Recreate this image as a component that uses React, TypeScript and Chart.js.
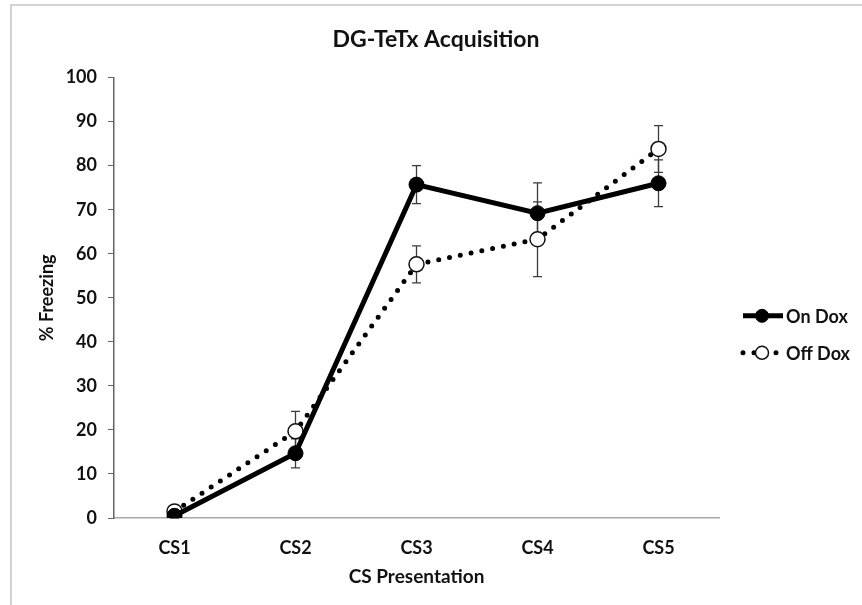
import React, { useEffect, useRef } from "react";
import { Chart, registerables } from "chart.js";

Chart.register(...registerables);

const categories = ["CS1", "CS2", "CS3", "CS4", "CS5"];
const onDox = [0.5, 14.7, 75.7, 69.2, 76.0];
const onDoxErr = [0.5, 3.3, 4.3, 6.9, 5.3];
const offDox = [1.5, 19.7, 57.6, 63.3, 83.8];
const offDoxErr = [0.5, 4.5, 4.2, 8.5, 5.3];
const seriesLabels = ["On Dox", "Off Dox"];
const chartTitle = "DG-TeTx Acquisition";
const xTitle = "CS Presentation";
const yTitle = "% Freezing";

const FONT = "Lato, 'Open Sans', sans-serif";

const framePlugin = {
  id: "frame",
  beforeDraw(chart: any) {
    const ctx = chart.ctx;
    ctx.save();
    ctx.fillStyle = "#ffffff";
    ctx.fillRect(0, 0, chart.width, chart.height);
    ctx.fillStyle = "#d2d2d2";
    ctx.fillRect(10, 4, 2, chart.height - 4);
    ctx.fillRect(10, 4, chart.width - 10, 2);
    ctx.restore();
  },
};

const errorBarPlugin = {
  id: "errorBars",
  beforeDatasetsDraw(chart: any) {
    const ctx = chart.ctx;
    const yScale = chart.scales.y;
    ctx.save();
    ctx.strokeStyle = "#3a3a3a";
    ctx.lineWidth = 1.3;
    chart.data.datasets.forEach((ds: any, i: number) => {
      const meta = chart.getDatasetMeta(i);
      meta.data.forEach((pt: any, j: number) => {
        const v = ds.data[j];
        const e = ds.errors[j];
        const x = pt.x;
        const yTop = yScale.getPixelForValue(v + e);
        const yBot = yScale.getPixelForValue(Math.max(0, v - e));
        ctx.beginPath();
        ctx.moveTo(x, yTop);
        ctx.lineTo(x, yBot);
        ctx.moveTo(x - 4.5, yTop);
        ctx.lineTo(x + 4.5, yTop);
        ctx.moveTo(x - 4.5, yBot);
        ctx.lineTo(x + 4.5, yBot);
        ctx.stroke();
      });
    });
    ctx.restore();
  },
};

const legendPlugin = {
  id: "sideLegend",
  afterDraw(chart: any) {
    const ctx = chart.ctx;
    const area = chart.chartArea;
    const x0 = area.right + 24;
    const yMid = (area.top + area.bottom) / 2;
    const rows = [yMid + 18, yMid + 55];
    ctx.save();
    chart.data.datasets.forEach((ds: any, i: number) => {
      const y = rows[i];
      ctx.beginPath();
      ctx.strokeStyle = ds.borderColor;
      ctx.lineWidth = ds.borderWidth;
      ctx.lineCap = ds.borderCapStyle || "butt";
      ctx.setLineDash(ds.borderDash || []);
      ctx.moveTo(x0, y);
      ctx.lineTo(x0 + 40, y);
      ctx.stroke();
      ctx.setLineDash([]);
      ctx.beginPath();
      ctx.arc(x0 + 19, y, ds.pointRadius - 1, 0, Math.PI * 2);
      ctx.fillStyle = ds.pointBackgroundColor;
      ctx.fill();
      ctx.lineWidth = ds.pointBorderWidth;
      ctx.strokeStyle = ds.pointBorderColor;
      ctx.stroke();
      ctx.fillStyle = "#111";
      ctx.font = `bold 18px ${FONT}`;
      ctx.textBaseline = "middle";
      ctx.textAlign = "left";
      ctx.fillText(ds.label, x0 + 43, y + 1);
    });
    ctx.restore();
  },
};

export default function App() {
  const ref = useRef<HTMLCanvasElement | null>(null);
  useEffect(() => {
    if (!ref.current) return;
    const chart = new Chart(ref.current, {
      type: "line",
      data: {
        labels: categories,
        datasets: [
          {
            label: seriesLabels[0],
            data: onDox,
            errors: onDoxErr,
            borderColor: "#000000",
            borderWidth: 5,
            pointRadius: 7.5,
            pointHoverRadius: 7.5,
            pointBackgroundColor: "#000000",
            pointBorderColor: "#000000",
            pointBorderWidth: 1,
            tension: 0,
          } as any,
          {
            label: seriesLabels[1],
            data: offDox,
            errors: offDoxErr,
            borderColor: "#000000",
            borderWidth: 5,
            borderDash: [0, 11],
            borderCapStyle: "round",
            pointRadius: 7.5,
            pointHoverRadius: 7.5,
            pointBackgroundColor: "#ffffff",
            pointBorderColor: "#111111",
            pointBorderWidth: 1.5,
            tension: 0,
          } as any,
        ],
      },
      options: {
        animation: false,
        responsive: false,
        layout: { padding: { left: 10, right: 0, top: 0, bottom: 0 } },
        plugins: {
          legend: { display: false },
          tooltip: { enabled: false },
          title: {
            display: true,
            text: chartTitle,
            color: "#111",
            font: { family: FONT, size: 23, weight: "bold" },
            padding: { top: 26, bottom: 24 },
          },
        },
        scales: {
          x: {
            type: "category",
            offset: true,
            grid: { display: false },
            border: { display: true, color: "#a8a8a8", width: 1.5 },
            ticks: {
              color: "#111",
              padding: 11,
              font: { family: FONT, size: 18, weight: "bold" },
            },
            title: {
              display: true,
              text: xTitle,
              color: "#111",
              font: { family: FONT, size: 19, weight: "bold" },
              padding: { top: 0, bottom: 17 },
            },
            afterFit: (s: any) => {
              s.height = 87;
            },
          },
          y: {
            min: 0,
            max: 100,
            ticks: {
              stepSize: 10,
              color: "#111",
              padding: 11,
              font: { family: FONT, size: 18, weight: "bold" },
            },
            grid: {
              drawOnChartArea: false,
              drawTicks: true,
              tickLength: 6,
              color: "#666",
            },
            border: { display: true, color: "#666", width: 1.5 },
            title: {
              display: true,
              text: yTitle,
              color: "#111",
              font: { family: FONT, size: 18, weight: "bold" },
              padding: { top: 26, bottom: 0 },
            },
            afterFit: (s: any) => {
              s.width = 104;
            },
          },
          y2: {
            position: "right",
            min: 0,
            max: 100,
            grid: { display: false },
            border: { display: false },
            ticks: { display: false },
            afterFit: (s: any) => {
              s.width = 143;
            },
          },
        },
      } as any,
      plugins: [framePlugin, errorBarPlugin, legendPlugin],
    });
    return () => chart.destroy();
  }, []);
  return (
    <div style={{ position: "fixed", left: 0, top: 0, width: 862, height: 605 }}>
      <canvas ref={ref} width={862} height={605} />
    </div>
  );
}
